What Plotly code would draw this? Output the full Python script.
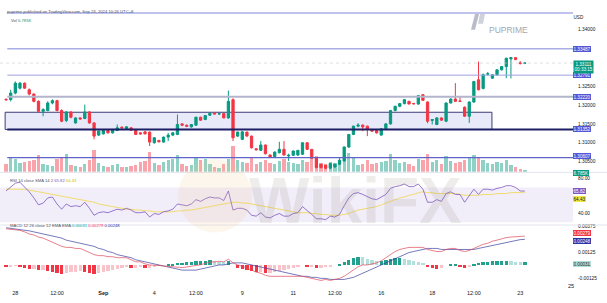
import plotly.graph_objects as go

W, H = 607, 303

# ---------------- data ----------------
OPEN = [1.32150, 1.32142, 1.32316, 1.32447, 1.32579, 1.32405, 1.32290, 1.32097, 1.31834, 1.31853,
        1.32053, 1.32116, 1.31853, 1.31590, 1.31816, 1.31526, 1.31658, 1.31642, 1.31816, 1.31526,
        1.31203, 1.31237, 1.31326, 1.31263, 1.31326, 1.31413, 1.31368, 1.31395, 1.31353, 1.31263,
        1.31289, 1.31282, 1.31000, 1.31063, 1.31018, 1.31150, 1.31203, 1.31221, 1.31500, 1.31466,
        1.31421, 1.31466, 1.31676, 1.31616, 1.31729, 1.31790, 1.31763, 1.31774, 1.31658, 1.32142,
        1.31176, 1.31090, 1.31282, 1.31176, 1.30842, 1.30800, 1.30940, 1.30676, 1.30632, 1.30737,
        1.30826, 1.30650, 1.30668, 1.30676, 1.30695, 1.31000, 1.30826, 1.30605, 1.30432, 1.30405,
        1.30326, 1.30361, 1.30432, 1.30519, 1.30887, 1.31221, 1.31440, 1.31466, 1.31440, 1.31353,
        1.31326, 1.31203, 1.31368, 1.31500, 1.31853, 1.31966, 1.32037, 1.32097, 1.32037, 1.32026,
        1.32274, 1.32079, 1.31590, 1.31484, 1.31658, 1.31571, 1.32053, 1.32158, 1.32105, 1.31940,
        1.31703, 1.32079, 1.32669, 1.32439, 1.32816, 1.32711, 1.32800, 1.32932, 1.33018, 1.33221,
        1.33255, 1.33111, 1.33105]
CLOSE = [1.32137, 1.32316, 1.32579, 1.32579, 1.32447, 1.32290, 1.32097, 1.31834, 1.31879, 1.32053,
         1.32116, 1.31853, 1.31571, 1.31816, 1.31676, 1.31658, 1.31632, 1.31816, 1.31526, 1.31176,
         1.31308, 1.31326, 1.31263, 1.31353, 1.31395, 1.31395, 1.31421, 1.31334, 1.31221, 1.31237,
         1.31237, 1.31018, 1.31132, 1.31026, 1.31150, 1.31203, 1.31263, 1.31484, 1.31466, 1.31440,
         1.31484, 1.31676, 1.31598, 1.31721, 1.31782, 1.31763, 1.31769, 1.31658, 1.32097, 1.31132,
         1.31282, 1.31289, 1.31176, 1.30868, 1.30816, 1.30940, 1.30710, 1.30624, 1.30755, 1.30826,
         1.30676, 1.30668, 1.30782, 1.30800, 1.31000, 1.30826, 1.30590, 1.30342, 1.30342, 1.30326,
         1.30447, 1.30432, 1.30537, 1.30887, 1.31221, 1.31440, 1.31466, 1.31421, 1.31353, 1.31308,
         1.31263, 1.31368, 1.31500, 1.31853, 1.31966, 1.32037, 1.32142, 1.32026, 1.32034, 1.32247,
         1.32124, 1.31571, 1.31616, 1.31658, 1.31598, 1.32053, 1.32158, 1.32097, 1.32097, 1.31703,
         1.32079, 1.32624, 1.32405, 1.32800, 1.32826, 1.32800, 1.32932, 1.33018, 1.33237, 1.33255,
         1.33203, 1.33103, 1.33111]
HIGH = [1.32176, 1.32405, 1.32624, 1.32611, 1.32597, 1.32439, 1.32308, 1.32124, 1.31913, 1.32097,
        1.32150, 1.32137, 1.31887, 1.31834, 1.31834, 1.31676, 1.31676, 1.32011, 1.31834, 1.31545,
        1.31321, 1.31334, 1.31334, 1.31361, 1.31484, 1.31426, 1.31440, 1.31413, 1.31361, 1.31282,
        1.31308, 1.31295, 1.31150, 1.31071, 1.31163, 1.31263, 1.31282, 1.31747, 1.31518, 1.31479,
        1.31492, 1.31690, 1.31690, 1.31729, 1.31795, 1.31795, 1.31782, 1.31782, 1.32379, 1.32176,
        1.31295, 1.31308, 1.31295, 1.31189, 1.30861, 1.31045, 1.30953, 1.30690, 1.30768, 1.31026,
        1.31045, 1.30710, 1.30795, 1.30808, 1.31018, 1.31018, 1.30834, 1.30624, 1.30439, 1.30413,
        1.30466, 1.30439, 1.30624, 1.30900, 1.31229, 1.31453, 1.31518, 1.31492, 1.31453, 1.31361,
        1.31334, 1.31387, 1.31518, 1.31861, 1.31979, 1.32045, 1.32163, 1.32111, 1.32058, 1.32255,
        1.32282, 1.32097, 1.31624, 1.31676, 1.31676, 1.32071, 1.32176, 1.32579, 1.32229, 1.31966,
        1.32097, 1.32637, 1.33150, 1.32834, 1.32874, 1.32808, 1.32940, 1.33032, 1.33255, 1.33269,
        1.33269, 1.33163, 1.33137]
LOW = [1.32124, 1.32097, 1.32282, 1.32413, 1.32426, 1.32255, 1.32071, 1.31808, 1.31703, 1.31834,
       1.32018, 1.31834, 1.31545, 1.31545, 1.31650, 1.31505, 1.31611, 1.31624, 1.31505, 1.31090,
       1.31176, 1.31216, 1.31242, 1.31242, 1.31308, 1.31374, 1.31347, 1.31321, 1.31203, 1.31216,
       1.31216, 1.30913, 1.30979, 1.31005, 1.31005, 1.31045, 1.31176, 1.31203, 1.31440, 1.31413,
       1.31400, 1.31453, 1.31584, 1.31598, 1.31716, 1.31755, 1.31742, 1.31650, 1.31637, 1.31045,
       1.31150, 1.31071, 1.31163, 1.30847, 1.30795, 1.30782, 1.30690, 1.30597, 1.30611, 1.30716,
       1.30663, 1.30519, 1.30650, 1.30650, 1.30676, 1.30808, 1.30571, 1.30321, 1.30321, 1.30308,
       1.30308, 1.30334, 1.30413, 1.30492, 1.30861, 1.31203, 1.31413, 1.31308, 1.31176, 1.31282,
       1.31242, 1.31189, 1.31361, 1.31479, 1.31834, 1.31940, 1.32018, 1.32018, 1.32018, 1.32005,
       1.32111, 1.31518, 1.31484, 1.31466, 1.31584, 1.31545, 1.32045, 1.32084, 1.32084, 1.31690,
       1.31526, 1.32058, 1.32387, 1.32413, 1.32782, 1.32690, 1.32782, 1.32913, 1.32711, 1.32703,
       1.33190, 1.33071, 1.33084]
VOLUME_K = [29, 54, 47, 32, 36, 40, 43, 61, 29, 25,
            22, 47, 50, 65, 25, 22, 18, 29, 43, 79,
            32, 22, 18, 25, 29, 18, 18, 22, 25, 36,
            40, 72, 32, 25, 36, 43, 47, 61, 29, 22,
            25, 50, 43, 47, 29, 18, 14, 29, 47, 94,
            43, 36, 32, 50, 29, 36, 43, 32, 29, 40,
            47, 36, 32, 29, 43, 36, 50, 58, 32, 29,
            36, 32, 40, 61, 68, 50, 25, 29, 43, 29,
            32, 36, 40, 65, 43, 32, 36, 29, 22, 47,
            43, 65, 36, 43, 29, 58, 40, 32, 36, 43,
            54, 61, 50, 43, 32, 29, 36, 32, 43, 25,
            18, 11, 6.785]
RSI = [66, 70, 75, 76, 71, 65, 58, 50, 52, 58,
       59, 51, 45, 51, 48, 49, 48, 53, 46, 38,
       41, 42, 41, 43, 45, 44, 46, 44, 41, 41,
       42, 36, 40, 39, 42, 43, 45, 51, 50, 49,
       51, 56, 54, 57, 59, 58, 58, 55, 66, 44,
       46, 46, 44, 38, 37, 41, 36, 35, 38, 40,
       37, 37, 40, 41, 48, 44, 39, 34, 34, 33,
       37, 36, 39, 49, 58, 63, 64, 62, 59, 57,
       56, 59, 62, 69, 71, 72, 74, 71, 71, 74,
       68, 53, 53, 56, 54, 63, 65, 62, 62, 53,
       61, 68, 62, 68, 68, 67, 69, 70, 72, 72,
       70, 66, 65.82]
RSI_MA = [68, 68, 68, 68, 68, 67, 66, 65, 64, 63,
          62, 61, 60, 59, 58, 57, 56, 55, 54, 53,
          51, 50, 49, 48, 47, 46, 45, 45, 44, 44,
          43, 43, 42, 42, 42, 42, 42, 43, 43, 44,
          44, 45, 46, 47, 48, 49, 50, 51, 52, 53,
          53, 52, 52, 51, 50, 49, 48, 47, 46, 45,
          44, 43, 42, 41, 41, 41, 40, 40, 39, 39,
          38, 38, 38, 39, 40, 42, 44, 45, 46, 47,
          48, 50, 52, 54, 56, 58, 59, 61, 62, 64,
          65, 64, 64, 63, 63, 63, 63, 63, 62, 61,
          61, 61, 61, 62, 62, 62, 63, 63, 63, 64,
          64, 64, 64.43]
MACD_HIST = [-0.0001, -0.0001, -0.00005, -0.0001, -0.0002, -0.0003, -0.0003, -0.0004, -0.0004, -0.0005,
             -0.0006, -0.0007, -0.0008, -0.0007, -0.0006, -0.0006, -0.0005, -0.0006, -0.0007, -0.0008,
             -0.0007, -0.0006, -0.0005, -0.0004, -0.0003, -0.0002, -0.0001, -0.0002, -0.0002, -0.0001,
             -0.0002, -0.0002, -0.0001, -0.00005, 0.0, 0.00005, 0.0001, 0.0002, 0.00025, 0.0003,
             0.00035, 0.0004, 0.00042, 0.00045, 0.00048, 0.0004, 0.00035, 0.0003, 0.00045, 0.0,
             -0.0002, -0.0003, -0.0004, -0.0005, -0.0006, -0.0006, -0.0007, -0.0007, -0.0006, -0.0005,
             -0.0004, -0.0003, -0.0002, -0.0001, 0.0, -0.0001, -0.0001, -0.0002, -0.0002, -0.0001,
             -0.0001, 0.0, 0.0001, 0.0003, 0.0005, 0.0007, 0.00083, 0.0008, 0.0006, 0.0005,
             0.0004, 0.0004, 0.0005, 0.0006, 0.0007, 0.0007, 0.0006, 0.0005, 0.0004, 0.0003,
             0.0002, -0.0001, -0.0002, -0.0003, -0.0002, 0.0, 0.0001, 0.0001, -0.0001, -0.0002,
             -0.0001, 0.0001, 0.0002, 0.0003, 0.0003, 0.0004, 0.0004, 0.00045, 0.00045, 0.0004,
             0.00035, 0.0003, 0.00031]
MACD_SIGNAL = [0.0036, 0.00355, 0.0035, 0.00345, 0.0034, 0.0033, 0.0032, 0.0031, 0.0030, 0.0029,
               0.0028, 0.0027, 0.0026, 0.0024, 0.0023, 0.0022, 0.0021, 0.0020, 0.0019, 0.0018,
               0.0016, 0.0015, 0.0013, 0.0012, 0.0010, 0.0009, 0.0008, 0.0007, 0.0005, 0.0004,
               0.0003, 0.0002, 0.0001, 0.0, -0.0001, -0.0002, -0.0003, -0.0004, -0.0005, -0.0005,
               -0.0005, -0.0005, -0.0004, -0.0003, -0.0002, -0.0001, 0.0, 0.0, 0.0001, 0.0002,
               0.0002, 0.0002, 0.0001, 0.0, -0.0001, -0.0002, -0.0003, -0.0004, -0.0005, -0.0006,
               -0.0007, -0.0008, -0.0009, -0.0010, -0.0011, -0.0011, -0.0012, -0.0012, -0.0013, -0.0013,
               -0.0014, -0.0014, -0.0014, -0.0014, -0.0013, -0.0012, -0.0010, -0.0008, -0.0006, -0.0004,
               -0.0002, 0.0, 0.0002, 0.0004, 0.0006, 0.0008, 0.0010, 0.0012, 0.0013, 0.0014,
               0.0015, 0.0016, 0.0016, 0.0016, 0.0015, 0.0015, 0.0015, 0.0015, 0.0015, 0.0015,
               0.0015, 0.0015, 0.0016, 0.0017, 0.0018, 0.0019, 0.0020, 0.0021, 0.0022, 0.0023,
               0.0024, 0.00245, 0.00248]
MACD_LINE = [0.0035, 0.00345, 0.00345, 0.00335, 0.0032, 0.0030, 0.0029, 0.0027, 0.0026, 0.0024,
             0.0022, 0.0020, 0.0018, 0.0017, 0.0017, 0.0016, 0.0016, 0.0014, 0.0012, 0.0010,
             0.0009, 0.0009, 0.0008, 0.0008, 0.0007, 0.0007, 0.0007, 0.0005, 0.0003, 0.0003,
             0.0001, 0.0, 0.0, -0.00005, -0.0001, -0.00015, -0.0002, -0.0002, -0.00025, -0.0002,
             -0.00015, -0.0001, 0.00002, 0.00015, 0.00028, 0.0003, 0.00035, 0.0003, 0.00055, 0.0002,
             0.0, -0.0001, -0.0003, -0.0005, -0.0007, -0.0008, -0.0010, -0.0011, -0.0011, -0.0011,
             -0.0011, -0.0011, -0.0011, -0.0011, -0.0011, -0.0012, -0.0013, -0.0014, -0.0015, -0.0014,
             -0.0015, -0.0014, -0.0013, -0.0011, -0.0008, -0.0005, -0.00017, 0.0, 0.0, 0.0001,
             0.0002, 0.0004, 0.0007, 0.0010, 0.0013, 0.0015, 0.0016, 0.0017, 0.0017, 0.0017,
             0.0017, 0.0015, 0.0014, 0.0013, 0.0013, 0.0015, 0.0016, 0.0016, 0.0014, 0.0013,
             0.0014, 0.0016, 0.0018, 0.0020, 0.0021, 0.0023, 0.0024, 0.00255, 0.00265, 0.0027,
             0.00275, 0.00275, 0.00279]

TIME_TICK_POS = [2, 11, 21, 32, 41, 51, 62, 71, 81, 92, 101, 111]
TIME_TICK_TEXT = ["28", "12:00", "<b>Sep</b>", "4", "12:00", "9", "11", "12:00", "16", "18", "12:00", "23"]
EXTRA_TICK = (122, "25")

PRICE_TICKS = [1.34, 1.325, 1.32, 1.315, 1.31, 1.305]
LEVELS = [1.33487, 1.32791, 1.32220, 1.31352, 1.30607]
TOP_LEVEL = 1.34440
ZONE = (1.31352, 1.31808)
ZONE_END = 104.9
LAST_PRICE = 1.33111
RSI_TICKS = [80, 40]
MACD_TICKS = [0.00375, 0.00125, -0.00125]
MACD_TICK_TEXT = ["0.00375", "0.00125", "-0.00125"]

# ---------------- styling ----------------
UP, DN = "#089981", "#f23645"
FONT = "Liberation Sans, Arial, sans-serif"
TXT = "#131722"
X_RIGHT = 573 / W


def py(p):
    return 1 - p / H


idx = list(range(len(OPEN)))
fig = go.Figure()

fig.add_trace(go.Bar(
    x=idx, y=VOLUME_K, width=0.72,
    marker=dict(color=["rgba(8,153,129,0.45)" if c >= o else "rgba(242,54,69,0.45)"
                       for o, c in zip(OPEN, CLOSE)], line=dict(width=0)),
    xaxis="x", yaxis="y4", hoverinfo="skip"))

fig.add_trace(go.Candlestick(
    x=idx, open=OPEN, high=HIGH, low=LOW, close=CLOSE,
    increasing=dict(line=dict(color=UP, width=1), fillcolor=UP),
    decreasing=dict(line=dict(color=DN, width=1), fillcolor=DN),
    whiskerwidth=0, xaxis="x", yaxis="y"))

fig.add_trace(go.Scatter(x=idx, y=RSI_MA, mode="lines", line=dict(color="#f0d64a", width=0.8),
                         xaxis="x", yaxis="y2"))
fig.add_trace(go.Scatter(x=idx, y=RSI, mode="lines", line=dict(color="#7e57c2", width=0.8),
                         xaxis="x", yaxis="y2"))

hist_colors = []
prev = 0.0
for h in MACD_HIST:
    if h >= 0:
        hist_colors.append("#22a28e" if h >= prev else "#b2dfdb")
    else:
        hist_colors.append("#f23645" if h < prev else "#f9c4c9")
    prev = h
fig.add_trace(go.Bar(x=idx, y=MACD_HIST, width=0.72, marker=dict(color=hist_colors, line=dict(width=0)),
                     xaxis="x", yaxis="y3"))
fig.add_trace(go.Scatter(x=idx, y=MACD_SIGNAL, mode="lines", line=dict(color="#3a3f9e", width=0.7),
                         xaxis="x", yaxis="y3"))
fig.add_trace(go.Scatter(x=idx, y=MACD_LINE, mode="lines", line=dict(color="#e0485a", width=0.7),
                         xaxis="x", yaxis="y3"))

shapes = []
# RSI band
shapes.append(dict(type="rect", xref="paper", yref="y2", x0=0, x1=X_RIGHT, y0=30, y1=70,
                   fillcolor="rgba(126,87,194,0.10)", line=dict(width=0), layer="below"))
# zone box
shapes.append(dict(type="rect", xref="x", yref="y", x0=-0.2, x1=ZONE_END, y0=ZONE[0], y1=ZONE[1],
                   fillcolor="rgba(120,124,220,0.17)", line=dict(color="#3b3d7a", width=1), layer="below"))
# horizontal levels
shapes.append(dict(type="line", xref="paper", yref="y", x0=0.012, x1=X_RIGHT, y0=TOP_LEVEL, y1=TOP_LEVEL,
                   line=dict(color="#a9aee6", width=1.5)))
lvl_style = {1.33487: ("#a9aee6", 1.5), 1.32791: ("#9da1df", 1), 1.32220: ("#b3b5cc", 2),
             1.31352: ("#1d1f66", 1.8), 1.30607: ("#6064c8", 1.2)}
for v in LEVELS:
    c, w = lvl_style[v]
    shapes.append(dict(type="line", xref="paper", yref="y", x0=0.012, x1=X_RIGHT, y0=v, y1=v,
                       line=dict(color=c, width=w)))
# last-price line
shapes.append(dict(type="line", xref="paper", yref="y", x0=0, x1=X_RIGHT, y0=LAST_PRICE, y1=LAST_PRICE,
                   line=dict(color="#c7cfd0", width=0.6, dash="dot")))
# pane separators
for p in (171.5, 224.5):
    shapes.append(dict(type="line", xref="paper", yref="paper", x0=0, x1=1, y0=py(p), y1=py(p),
                       line=dict(color="#e3e5ec", width=1)))
# watermark logo circle
shapes.append(dict(type="circle", xref="paper", yref="paper", x0=178 / W, x1=252 / W,
                   y0=py(232), y1=py(158), fillcolor="rgba(236,200,140,0.16)", line=dict(width=0),
                   layer="above"))
# PU Prime icon
shapes.append(dict(type="path", xref="paper", yref="paper",
                   path=f"M {471/W},{py(28)} L {475/W},{py(12)} L {479/W},{py(12)} L {475/W},{py(28)} Z",
                   fillcolor="#b8bcc6", line=dict(width=0)))
shapes.append(dict(type="path", xref="paper", yref="paper",
                   path=f"M {478/W},{py(22)} L {480/W},{py(12)} L {485/W},{py(12)} L {483/W},{py(22)} Z",
                   fillcolor="#cfd2d9", line=dict(width=0)))

ann = []


def lab(text, yv, bg, fg="white", yref="y", bc=None, yshift=0):
    ann.append(dict(x=X_RIGHT, xref="paper", y=yv, yref=yref, text=text, showarrow=False,
                    xanchor="left", yanchor="middle", bgcolor=bg, bordercolor=bc or bg, borderwidth=0,
                    borderpad=0.5, yshift=yshift, font=dict(family=FONT, size=4.6, color=fg)))


lab("USD", py(15), "white", TXT, "paper", "#d0d3da")
for v in LEVELS:
    lab(f"{v:.5f}", v, "#5156d6", yshift=(1.5 if v == 1.30607 else 0))
ann.append(dict(x=X_RIGHT, xref="paper", y=LAST_PRICE, yref="y", text="1.33111<br>00:33:15",
                showarrow=False, xanchor="left", yanchor="top", yshift=3.5, bgcolor=UP, borderpad=0.5,
                font=dict(family=FONT, size=4.6, color="white")))
lab(f"{VOLUME_K[-1]:.3f}K", py(172), UP, "white", "paper")
lab(f"{RSI[-1]:.2f}", py(190), "#7e57c2", "white", "paper")
lab(f"{RSI_MA[-1]:.2f}", py(198), "#f5e642", TXT, "paper")
lab(f"{MACD_LINE[-1]:.5f}", py(233), "#f23645", "white", "paper")
lab(f"{MACD_SIGNAL[-1]:.5f}", py(241), "#2d31a6", "white", "paper")
lab(f"{MACD_HIST[-1]:.5f}", py(263.5), "#b2dfdb", TXT, "paper")

# extra time label beyond the last tick
ann.append(dict(x=EXTRA_TICK[0], xref="x", y=py(291), yref="paper", text=EXTRA_TICK[1], showarrow=False,
                font=dict(family=FONT, size=5.5, color=TXT)))

# header and legends
ann.append(dict(x=5 / W, xref="paper", y=py(5), yref="paper", xanchor="left", showarrow=False,
                text="puprime published on TradingView.com, Sep 23, 2024 10:26 UTC+8",
                font=dict(family=FONT, size=4.2, color="#50535e")))
ann.append(dict(x=9 / W, xref="paper", y=py(14), yref="paper", xanchor="left", showarrow=False,
                text="Vol <span style='color:#089981'>6.785K</span>",
                font=dict(family=FONT, size=4.2, color="#50535e")))
ann.append(dict(x=8 / W, xref="paper", y=py(180), yref="paper", xanchor="left", showarrow=False,
                text="RSI 14 close SMA 14 2 <span style='color:#7e57c2'>65.82</span> "
                     "<span style='color:#d4b800'>64.43</span>",
                font=dict(family=FONT, size=4.2, color="#50535e")))
ann.append(dict(x=8 / W, xref="paper", y=py(230), yref="paper", xanchor="left", showarrow=False,
                text="MACD 12 26 close 12 EMA EMA <span style='color:#22a28e'>0.00031</span> "
                     "<span style='color:#f23645'>0.00279</span> <span style='color:#2d31a6'>0.00248</span>",
                font=dict(family=FONT, size=4.2, color="#50535e")))
# PU Prime logo text
ann.append(dict(x=487 / W, xref="paper", y=py(21), yref="paper", xanchor="left", showarrow=False,
                text="PUPRIME", font=dict(family=FONT, size=8.5, color="#a3a7b1")))
# WikiFX watermark
ann.append(dict(x=355 / W, xref="paper", y=py(200), yref="paper", showarrow=False, text="<b>WikiFX</b>",
                font=dict(family=FONT, size=64, color="rgba(150,140,130,0.16)")))

axis_font = dict(family=FONT, size=4.8, color=TXT)
fig.update_layout(
    width=W, height=H, margin=dict(l=0, r=0, t=0, b=0),
    paper_bgcolor="white", plot_bgcolor="white", showlegend=False, bargap=0,
    xaxis=dict(domain=[0, X_RIGHT], range=[-1.31, 122.4], anchor="y3",
               tickvals=TIME_TICK_POS, ticktext=TIME_TICK_TEXT, tickfont=dict(family=FONT, size=5.5, color=TXT),
               showgrid=False, zeroline=False, showline=False, ticks="", ticklabelstandoff=3,
               rangeslider=dict(visible=False)),
    yaxis=dict(domain=[py(171), py(8)], range=[1.30229, 1.34518], side="right", anchor="x",
               tickvals=PRICE_TICKS, tickformat=".5f", tickfont=axis_font, showgrid=False, zeroline=False,
               ticks="", ticklabelstandoff=4),
    yaxis4=dict(domain=[py(171), py(8)], range=[0, 587], overlaying="y", side="right", anchor="x",
                visible=False),
    yaxis2=dict(domain=[py(224), py(172)], range=[27.37, 86.8], side="right", anchor="x",
                tickvals=RSI_TICKS, tickformat=".2f", tickfont=axis_font, showgrid=False, zeroline=False,
                ticks="", ticklabelstandoff=4),
    yaxis3=dict(domain=[py(285), py(225)], range=[-0.001952, 0.003817], side="right", anchor="x",
                tickvals=MACD_TICKS, ticktext=MACD_TICK_TEXT, tickfont=axis_font, showgrid=False,
                zeroline=False, ticks="", ticklabelstandoff=4),
    shapes=shapes, annotations=ann,
)

fig.write_html("out.html")
